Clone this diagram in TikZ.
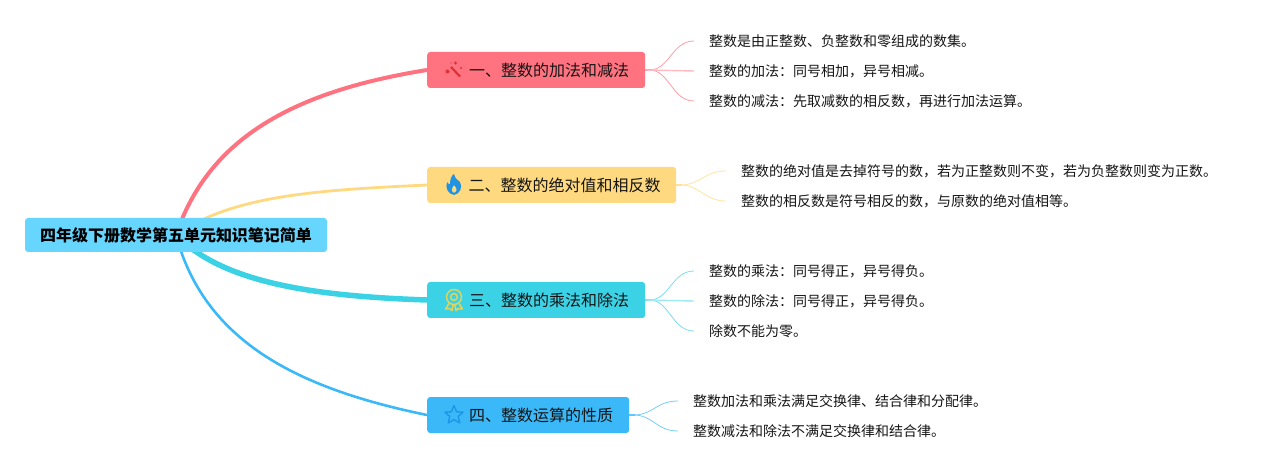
\documentclass[tikz,border=0pt]{standalone}
\usepackage{fontspec}
\setmainfont{Noto Sans CJK SC}
\usetikzlibrary{backgrounds,calc}
\definecolor{cred}{HTML}{FF7380}
\definecolor{cyel}{HTML}{FFD97F}
\definecolor{ccya}{HTML}{3CD2E6}
\definecolor{cblu}{HTML}{3BB8F8}
\definecolor{croot}{HTML}{66D6FF}
\definecolor{ink}{HTML}{151515}
\definecolor{cwand}{HTML}{DC3238}
\tikzset{
 x=1pt,y=-1pt,
 rootbox/.style={fill=croot,rounded corners=3pt,minimum width=302pt,minimum height=34pt,inner sep=0pt,text=black,font=\fontsize{16}{18}\selectfont\bfseries},
 branchbox/.style={rounded corners=3pt,minimum height=36pt,inner ysep=0pt,inner xsep=16pt,anchor=west,text=ink,font=\fontsize{16}{18}\selectfont},
 leaf/.style={anchor=west,inner xsep=15pt,inner ysep=0pt,text=ink,font=\fontsize{14}{16}\selectfont},
 main/.style={fill=none},
 twig/.style={line width=0.8pt,fill=none},
 stem/.style={line width=1.4pt,fill=none},
}
\newcommand{\brlabel}[1]{\hspace*{26pt}\raisebox{-0.8pt}{#1}}
\begin{document}
\begin{tikzpicture}
\useasboundingbox (0,0) rectangle (1277,470);
\node[rootbox] (root) at (176,235) {四年级下册数学第五单元知识笔记简单};
\node[branchbox,fill=cred] (b1) at (427,70) {\brlabel{一、整数的加法和减法}};
\node[branchbox,fill=cyel,inner xsep=15.5pt] (b2) at (427,185) {\brlabel{二、整数的绝对值和相反数}};
\node[branchbox,fill=ccya] (b3) at (427,300) {\brlabel{三、整数的乘法和除法}};
\node[branchbox,fill=cblu] (b4) at (427,415) {\brlabel{四、整数运算的性质}};
\node[leaf] (l11) at (694,41) {整数是由正整数、负整数和零组成的数集。};
\node[leaf] (l12) at (694,71) {整数的加法：同号相加，异号相减。};
\node[leaf] (l13) at (694,101) {整数的减法：先取减数的相反数，再进行加法运算。};
\node[leaf] (l21) at (726,171) {整数的绝对值是去掉符号的数，若为正整数则不变，若为负整数则变为正数。};
\node[leaf] (l22) at (726,201) {整数的相反数是符号相反的数，与原数的绝对值相等。};
\node[leaf] (l31) at (694,271) {整数的乘法：同号得正，异号得负。};
\node[leaf] (l32) at (694,301) {整数的除法：同号得正，异号得负。};
\node[leaf] (l33) at (694,331) {除数不能为零。};
\node[leaf] (l41) at (678,401) {整数加法和乘法满足交换律、结合律和分配律。};
\node[leaf] (l42) at (678,431) {整数减法和除法不满足交换律和结合律。};
\begin{scope}[on background layer]
\draw[main,cred,line width=4pt] (root.center) .. controls (208,140) and (290,92) .. (b1.west);
\draw[main,cyel,line width=2.8pt] (root.center) .. controls (232,195) and (320,190) .. (b2.west);
\draw[main,ccya,line width=5.5pt] (root.center) .. controls (222,282) and (310,296) .. (b3.west);
\draw[main,cblu,line width=2.6pt] (root.center) .. controls (204,340) and (295,388) .. (b4.west);
\foreach \b/\c/\l in {b1/cred/l11,b1/cred/l13,b2/cyel/l21,b2/cyel/l22,b3/ccya/l31,b3/ccya/l33,b4/cblu/l41,b4/cblu/l42}{
 \draw[twig,\c!70] (\b.east) ++(4,0) .. controls +(20,0) and ($(\l.west)+(-22,0)$) .. (\l.west);
 \draw[stem,\c!80] (\b.east) -- ++(6,0);
}
\draw[stem,cred!50] (b1.east) -- (l12.west);
\draw[stem,ccya!50] (b3.east) -- (l32.west);
\end{scope}
% wand icon
\begin{scope}[shift={(454,70)}]
\draw[line width=2.2pt,color=cwand] (-3,-3) -- (6,6.5);
\fill[cwand] (-6.5,1.5) circle (2);
\fill[cwand] (1.5,-7) circle (1.6);
\fill[cwand] (7,-2) circle (1.1);
\fill[cwand] (-3,-7) circle (0.7);
\end{scope}
% flame icon
\begin{scope}[shift={(454,185)}]
\fill[even odd rule,color={rgb,255:red,32;green,148;blue,226}] (0,-11) .. controls (1,-6) and (4,-5) .. (6,-3) .. controls (9,2) and (6,9) .. (0,10) .. controls (-6,9) and (-9,3) .. (-7,-3) .. controls (-6,-1) and (-5,-1) .. (-4,-1) .. controls (-4,-5) and (-3,-9) .. (0,-11) -- cycle
 (0,0) .. controls (-2,3) and (-4,6) .. (0,8) .. controls (4,6) and (3,3) .. (0,0) -- cycle;
\end{scope}
% medal icon
\begin{scope}[shift={(454,300)},color={rgb,255:red,222;green,212;blue,92}]
\draw[line width=1.5pt,fill=none] (0,-3) circle (7.5);
\draw[line width=1.5pt,fill=none] (0,-3) circle (3.4);
\draw[line width=1.5pt,line join=round,fill=none] (-5,3.5) -- (-8.5,9) -- (-4.5,8.5) -- (-2,10.5) -- (-0.8,5);
\draw[line width=1.5pt,line join=round,fill=none] (5,3.5) -- (8.5,9) -- (4.5,8.5) -- (2,10.5) -- (0.8,5);
\end{scope}
% star icon
\begin{scope}[shift={(454,415)}]
\draw[line width=1.4pt,line join=round,color={rgb,255:red,28;green,150;blue,232},fill=none]
 (0,-9.5) -- (2.6,-3.2) -- (9,-2.8) -- (4.2,1.4) -- (5.8,8) -- (0,4.6) -- (-5.8,8) -- (-4.2,1.4) -- (-9,-2.8) -- (-2.6,-3.2) -- cycle;
\end{scope}
\end{tikzpicture}
\end{document}
